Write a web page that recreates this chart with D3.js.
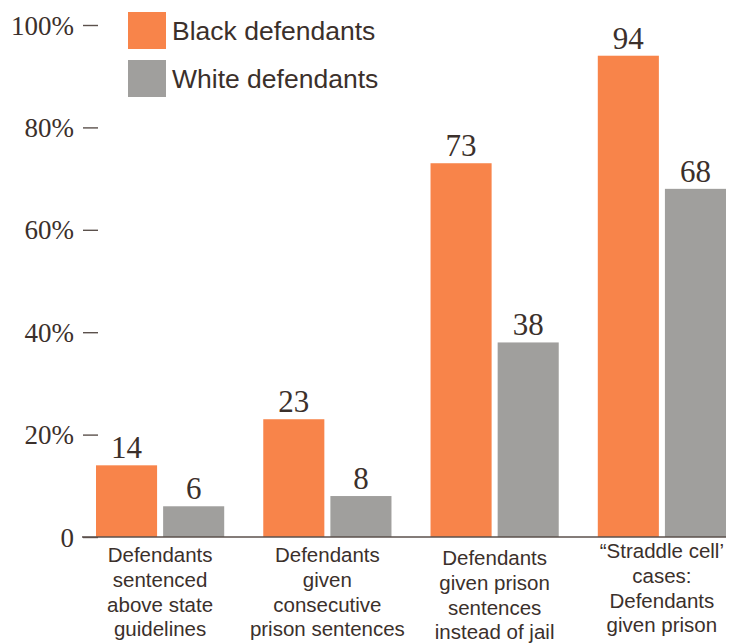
<!DOCTYPE html>
<html>
<head>
<meta charset="utf-8">
<script src="https://cdn.jsdelivr.net/npm/d3@7"></script>
<style>
  body { margin: 0; background: #ffffff; }
</style>
</head>
<body>
<script>
const categories = [
    ["Defendants", "sentenced", "above state", "guidelines"],
    ["Defendants", "given", "consecutive", "prison sentences"],
    ["Defendants", "given prison", "sentences", "instead of jail"],
    ["\u201cStraddle cell\u2019", "cases:", "Defendants", "given prison"]
];
const seriesNames = ["Black defendants", "White defendants"];
const blackValues = [14, 23, 73, 94];
const whiteValues = [6, 8, 38, 68];
const yTicks = [0, 20, 40, 60, 80, 100];

const [width, height] = [732, 644];
const margin = ({top: 25, right: 6, bottom: 107, left: 96});
const colors = ["#f8844a", "#a09f9d"];
const textColor = "#3b302b";
const lineColor = "#5b514c";
// the labels in the original sit at slightly different heights
const labelShift = [0, 0, 3, -4];

const svg = d3.select("body").append("svg")
    .attr("width", width)
    .attr("height", height)
    .attr("viewBox", [0, 0, width, height]);

const keys = categories.map((c, i) => i);

const x0 = d3.scaleBand()
    .domain(keys)
    .range([margin.left, width - margin.right])
    .paddingInner(0.2335)
    .paddingOuter(0);

const x1 = d3.scaleBand()
    .domain(seriesNames)
    .range([0, x0.bandwidth()])
    .paddingInner(0.09);

const y = d3.scaleLinear()
    .domain([0, 100])
    .range([height - margin.bottom, margin.top]);

// y axis: short dashes beside the labels
const yAxis = (g) => g
    .attr("transform", `translate(${margin.left + 2},0)`)
    .call(d3.axisLeft(y).tickValues(yTicks).tickSize(15).tickPadding(9)
        .tickFormat(d => d === 0 ? "0" : d + "%"))
    .call(g => g.select(".domain").remove())
    .call(g => g.selectAll(".tick line").attr("stroke", lineColor).attr("stroke-width", 1.4))
    .call(g => g.selectAll(".tick text")
        .attr("fill", textColor)
        .attr("font-family", "'Liberation Serif', serif")
        .attr("font-size", 27)
        .attr("dy", "0.34em"));

svg.append("g").call(yAxis);

const rows = keys.map(i => ({i, values: [blackValues[i], whiteValues[i]]}));

const groups = svg.append("g")
    .selectAll("g")
    .data(rows)
    .join("g")
        .attr("transform", d => `translate(${x0(d.i)},0)`);

groups.selectAll("rect")
    .data(d => d.values.map((v, s) => ({s, v})))
    .join("rect")
        .attr("x", d => x1(seriesNames[d.s]))
        .attr("y", d => y(d.v))
        .attr("width", x1.bandwidth())
        .attr("height", d => y(0) - y(d.v))
        .attr("fill", d => colors[d.s]);

groups.selectAll("text.value")
    .data(d => d.values.map((v, s) => ({s, v})))
    .join("text")
        .attr("class", "value")
        .attr("x", d => x1(seriesNames[d.s]) + x1.bandwidth() / 2)
        .attr("y", d => y(d.v) - 7)
        .attr("text-anchor", "middle")
        .attr("fill", textColor)
        .attr("font-family", "'Liberation Serif', serif")
        .attr("font-size", 31)
        .text(d => d.v);

// baseline
svg.append("line")
    .attr("x1", margin.left - 14)
    .attr("x2", width - margin.right)
    .attr("y1", y(0))
    .attr("y2", y(0))
    .attr("stroke", lineColor)
    .attr("stroke-width", 1.5);

// category labels
const xLabels = svg.append("g")
    .attr("font-family", "'Liberation Sans', Arial, sans-serif")
    .attr("font-size", 20.5)
    .attr("fill", textColor)
    .attr("text-anchor", "middle");

xLabels.selectAll("text")
    .data(rows)
    .join("text")
        .attr("x", d => x0(d.i) + x0.bandwidth() / 2)
        .attr("y", d => y(0) + 25 + labelShift[d.i])
        .selectAll("tspan")
        .data(d => categories[d.i])
        .join("tspan")
            .attr("x", function() { return this.parentNode.getAttribute("x"); })
            .attr("dy", (d, j) => j === 0 ? 0 : 24.8)
            .text(d => d);

// legend
const legend = svg.append("g")
    .attr("font-family", "'Liberation Sans', Arial, sans-serif")
    .attr("font-size", 26.5)
    .attr("fill", textColor);

const legendItems = legend.selectAll("g")
    .data(seriesNames)
    .join("g")
        .attr("transform", (d, i) => `translate(128,${12 + i * 48})`);

legendItems.append("rect")
    .attr("width", 38)
    .attr("height", 37)
    .attr("fill", (d, i) => colors[i]);

legendItems.append("text")
    .attr("x", 44)
    .attr("y", 18.5)
    .attr("dy", "0.35em")
    .text(d => d);
</script>
</body>
</html>
